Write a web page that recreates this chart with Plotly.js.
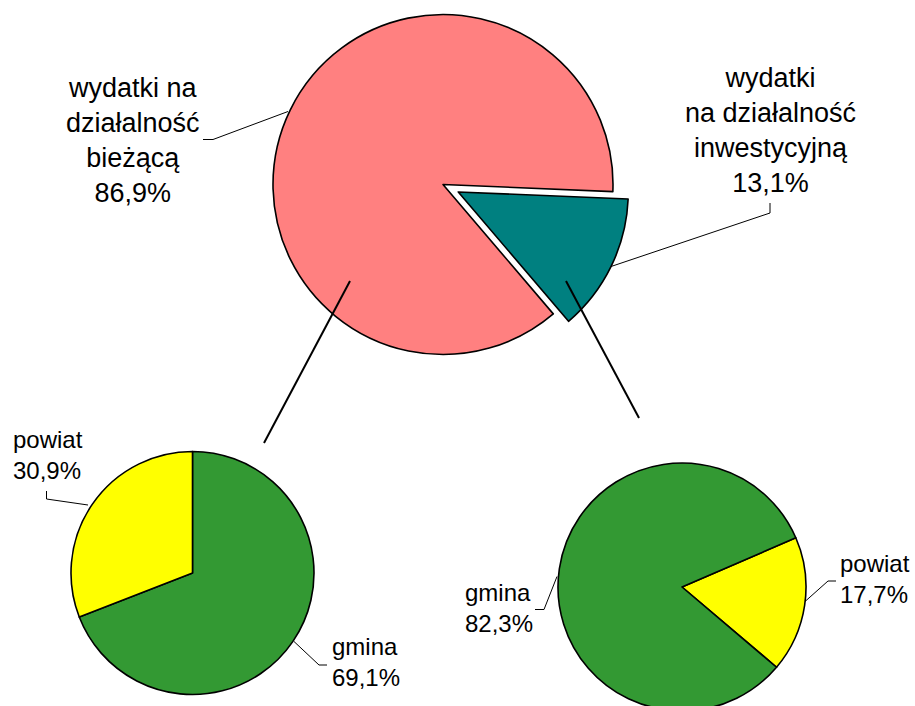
<!DOCTYPE html>
<html>
<head>
<meta charset="utf-8">
<script src="https://cdn.plot.ly/plotly-3.0.1.min.js"></script>
<style>
  html, body { margin: 0; padding: 0; overflow: hidden; background: #fff; }
  #chart { position: absolute; left: 0; top: -10px; width: 915px; height: 730px; }
</style>
</head>
<body>
<div id="chart"></div>
<script>
// ---- data ----
const mainLabels = ["wydatki<br>na działalność<br>inwestycyjną", "wydatki na<br>działalność<br>bieżącą"];
const mainValues = [13.1, 86.9];
const mainColors = ["#008080", "#FF8080"];

const biezLabels = ["gmina", "powiat"];
const biezValues = [69.1, 30.9];

const inwLabels = ["powiat", "gmina"];
const inwValues = [17.7, 82.3];

const subColors = { gmina: "#339933", powiat: "#FFFF00" };

// ---- helpers (screen px -> paper) ----
const W = 915, H = 730, OFF = 10;
const fx = x => x / W;
const fy = y => (H - (y + OFF)) / H;
const pct = v => v.toFixed(1).replace('.', ',') + '%';
function dom(cx, cy, half) {
  return { x: [fx(cx - half), fx(cx + half)], y: [fy(cy + half), fy(cy - half)] };
}

const FONT = "Liberation Sans, Arial, sans-serif";
const outline = { color: "#000", width: 1.6 };

const traces = [
  {
    type: "pie", values: mainValues, labels: mainLabels, sort: false,
    direction: "clockwise", rotation: 92.4, pull: [0.1, 0],
    marker: { colors: mainColors, line: outline },
    textinfo: "none", hoverinfo: "label+percent", showlegend: false,
    domain: dom(443, 184.5, 187)
  },
  {
    type: "pie", values: biezValues, labels: biezLabels, sort: false,
    direction: "clockwise", rotation: 0,
    marker: { colors: biezLabels.map(l => subColors[l]), line: outline },
    textinfo: "none", showlegend: false,
    domain: dom(192.5, 573, 121.5)
  },
  {
    type: "pie", values: inwValues, labels: inwLabels, sort: false,
    direction: "clockwise", rotation: 66.6,
    marker: { colors: inwLabels.map(l => subColors[l]), line: outline },
    textinfo: "none", showlegend: false,
    domain: dom(682, 587, 124)
  }
];

function ann(text, x, y, size, xanchor, align) {
  return {
    text: text, x: fx(x), y: fy(y), xref: "paper", yref: "paper",
    showarrow: false, xanchor: xanchor, yanchor: "middle", align: align,
    font: { family: FONT, size: size, color: "#000" }
  };
}

const annotations = [
  ann(mainLabels[1] + "<br>" + pct(mainValues[1]), 133, 140, 27, "center", "center"),
  ann(mainLabels[0] + "<br>" + pct(mainValues[0]), 770, 130, 27, "center", "center"),
  ann(biezLabels[1] + "<br>" + pct(biezValues[1]), 11, 455, 24, "left", "left"),
  ann(biezLabels[0] + "<br>" + pct(biezValues[0]), 330, 662, 24, "left", "left"),
  ann(inwLabels[1] + "<br>" + pct(inwValues[1]), 463, 608, 24, "left", "left"),
  ann(inwLabels[0] + "<br>" + pct(inwValues[0]), 838, 579, 24, "left", "left")
];

function path(points, width) {
  let d = "M " + points.map(p => fx(p[0]) + "," + fy(p[1])).join(" L ");
  return { type: "path", xref: "paper", yref: "paper", path: d, line: { color: "#000", width: width } };
}
function seg(p, q, width) {
  return { type: "line", xref: "paper", yref: "paper",
    x0: fx(p[0]), y0: fy(p[1]), x1: fx(q[0]), y1: fy(q[1]), line: { color: "#000", width: width } };
}

const shapes = [
  // connectors from main pie to detail pies
  seg([350, 281], [264, 443], 2),
  seg([566, 281], [639, 418], 2),
  // leader lines
  path([[203, 139.5], [213, 139.5], [288, 111.5]], 1),
  path([[770, 203], [770, 213], [611, 266.5]], 1),
  path([[46.5, 491], [46.5, 499], [88, 505]], 1),
  path([[294, 641.5], [319, 665], [327, 665]], 1),
  path([[535, 609.5], [544, 609.5], [557, 576.5]], 1),
  path([[805, 601.5], [828, 581], [836, 581]], 1)
];

Plotly.newPlot("chart", traces, {
  width: W, height: H,
  margin: { l: 0, r: 0, t: 0, b: 0 },
  paper_bgcolor: "#fff",
  showlegend: false,
  annotations: annotations,
  shapes: shapes
}, { displayModeBar: false, staticPlot: true });
</script>
</body>
</html>
